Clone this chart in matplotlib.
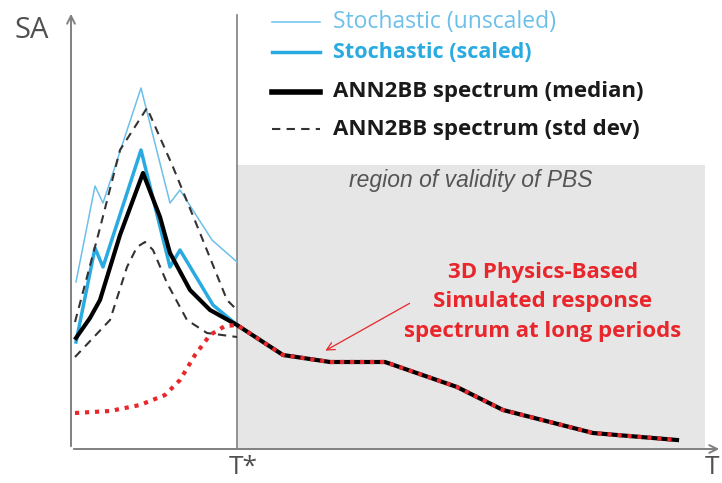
import numpy as np
import matplotlib.pyplot as plt

# schematic spectra: period axis (arbitrary units), SA (arbitrary units)
T_STAR = 166
T_END = 647
SA_TOP = 434
PBS_TOP = 284
PBS_RIGHT = 634

unscaled_T = [5, 24, 32, 70, 99, 109, 141, 166]
unscaled_SA = [167, 263, 246, 361, 246, 259, 209, 187]

scaled_T = [5, 24, 32, 70, 99, 109, 142, 166]
scaled_SA = [107, 201, 182, 299, 182, 199, 144, 124]

median_T = [5, 19, 29, 49, 72, 89, 99, 119, 139, 166, 212, 259, 314, 386, 432, 522, 606]
median_SA = [111, 131, 149, 214, 276, 232, 196, 159, 139, 124, 94, 87, 87, 62, 39, 16, 9]

upper_T = [4, 29, 49, 76, 102, 129, 156, 166]
upper_SA = [127, 221, 299, 341, 282, 216, 149, 139]

lower_T = [4, 39, 56, 66, 74, 82, 96, 116, 136, 166]
lower_SA = [92, 129, 182, 202, 207, 199, 166, 129, 116, 112]

pbs_T = [4, 39, 69, 94, 109, 124, 139, 154, 166]
pbs_SA = [36, 38, 44, 54, 69, 94, 114, 123, 124]

RED = '#e8262b'
BLUE = '#29abe2'
LIGHT_BLUE = '#6cc0ea'
AXIS = '#808080'
LABEL = '#505050'

fig = plt.figure(figsize=(7.22, 4.83), dpi=100)
ax = fig.add_axes([0, 0, 1, 1])
ax.set_xlim(-71, 651)
ax.set_ylim(-34, 449)
ax.axis('off')

# region where physics-based simulation is valid
ax.fill_between([T_STAR, PBS_RIGHT], 0, PBS_TOP, color='#e6e6e6', lw=0, zorder=0)
ax.text((T_STAR + PBS_RIGHT) / 2, 269, 'region of validity of PBS', ha='center', va='center',
        style='italic', fontsize=16.5, color='#555555', family='Liberation Sans')

# axes with arrows
ax.annotate('', xy=(0, SA_TOP + 4), xytext=(0, 0),
            arrowprops=dict(arrowstyle='->', color=AXIS, lw=1.4, mutation_scale=14))
ax.annotate('', xy=(T_END + 4, 0), xytext=(0, 0),
            arrowprops=dict(arrowstyle='->', color=AXIS, lw=1.4, mutation_scale=14))
ax.plot([T_STAR, T_STAR], [0, SA_TOP], color=AXIS, lw=1.2)

ax.text(-56, 419, 'SA', ha='left', va='center', fontsize=21, color=LABEL, family='Open Sans')
ax.text(T_STAR - 8, -19, 'T*', ha='left', va='center', fontsize=19, color=LABEL, family='Open Sans')
ax.text(648, -19, 'T', ha='right', va='center', fontsize=19, color=LABEL, family='Open Sans')

# spectra
ax.plot(unscaled_T, unscaled_SA, color=LIGHT_BLUE, lw=1.1)
ax.plot(scaled_T, scaled_SA, color=BLUE, lw=2.5)
ax.plot(upper_T, upper_SA, color='#333333', lw=1.5, dashes=(4, 3))
ax.plot(lower_T, lower_SA, color='#333333', lw=1.5, dashes=(4, 3))
ax.plot(median_T, median_SA, color='black', lw=3)

# physics-based spectrum: low periods, then the long-period part over the median
i0 = median_T.index(T_STAR)
ax.plot(pbs_T + median_T[i0 + 1:], pbs_SA + median_SA[i0 + 1:], color=RED, lw=3,
        linestyle=(0, (1, 1.4)), zorder=5)

# legend
legend_rows = [
    ('Stochastic (unscaled)', LIGHT_BLUE, 1.1, '-', LIGHT_BLUE, 'normal', 16.5, 427),
    ('Stochastic (scaled)', BLUE, 2.5, '-', BLUE, 'bold', 15.5, 397),
    ('ANN2BB spectrum (median)', 'black', 4, '-', '#1a1a1a', 'bold', 16, 357),
    ('ANN2BB spectrum (std dev)', '#333333', 1.5, '--', '#1a1a1a', 'bold', 16, 320),
]
for label, lc, lw, ls, tc, fw, fs, y in legend_rows:
    line, = ax.plot([201, 249], [y, y], color=lc, lw=lw, linestyle=ls)
    if ls == '--':
        line.set_dashes((4, 3))
    ax.text(262, y, label, ha='left', va='center', fontsize=fs, color=tc,
            fontweight=fw, family='Open Sans')

ax.text(472, 147, '3D Physics-Based\nSimulated response\nspectrum at long periods',
        ha='center', va='center', fontsize=16, color=RED, fontweight='bold',
        family='Open Sans', linespacing=1.55)
ax.annotate('', xy=(252, 97), xytext=(341, 147),
            arrowprops=dict(arrowstyle='->', color=RED, lw=0.9, mutation_scale=14))

fig.savefig('out.png', dpi=100)
